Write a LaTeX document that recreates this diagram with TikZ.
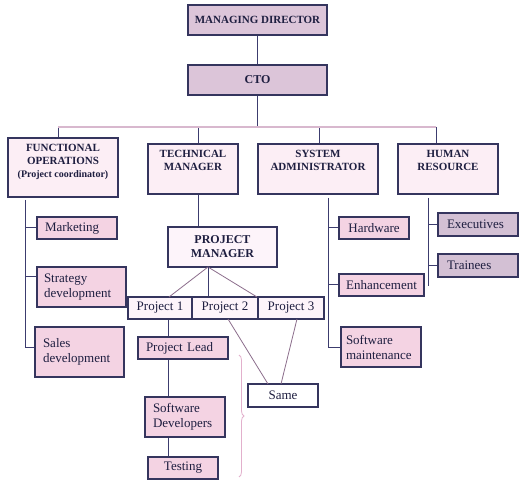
\documentclass[tikz,border=0pt]{standalone}
\usepackage{fontspec}
\setmainfont{Liberation Serif}
\usetikzlibrary{decorations.pathreplacing}
\lefthyphenmin=62
\righthyphenmin=62
\definecolor{bord}{HTML}{35355E}
\definecolor{txt}{HTML}{1E1E40}
\definecolor{lnc}{HTML}{3C3C6E}
\definecolor{busc}{HTML}{D8B8CE}
\definecolor{mauvel}{HTML}{8C6E8C}
\definecolor{bracec}{HTML}{E2B0CC}
\definecolor{mauve}{HTML}{DCC5D9}
\definecolor{pale}{HTML}{FCEEF5}
\definecolor{paler}{HTML}{FDF4FA}
\definecolor{pinkb}{HTML}{F4D3E3}
\definecolor{lilac}{HTML}{D3C0D4}
\begin{document}
\begin{tikzpicture}[x=1pt,y=-1pt,
  bx/.style={draw=bord, line width=1.3pt, inner sep=0pt, text=txt},
  bt/.style={font=\fontsize{11}{13}\selectfont\bfseries},
  rt/.style={font=\fontsize{13}{15}\selectfont},
  ttl/.style={bt, text=txt, align=center, anchor=north, yshift=-3pt},
  ln/.style={draw=lnc, line width=0.9pt},
  busl/.style={draw=busc, line width=1.2pt},
  ml/.style={draw=mauvel, line width=0.8pt}]
\useasboundingbox[fill=white] (0,0) rectangle (525,489);

% top
\node[bx,bt,fill=mauve,minimum width=139pt,minimum height=30pt] (md) at (257.5,20) {MANAGING DIRECTOR};
\node[bx,fill=mauve,font=\fontsize{12}{14}\selectfont\bfseries,minimum width=139pt,minimum height=30pt] (cto) at (257.5,80) {CTO};

% row 2
\node[bx,fill=pale,minimum width=110pt,minimum height=59pt,
  label={[ttl]north:FUNCTIONAL\\OPERATIONS\\{\fontsize{10}{12}\selectfont(Project coordinator)}}] (fo) at (63,167.5) {};
\node[bx,fill=pale,minimum width=90pt,minimum height=50pt,
  label={[ttl]north:TECHNICAL\\MANAGER}] (tm) at (193,169) {};
\node[bx,fill=pale,minimum width=120pt,minimum height=50pt,
  label={[ttl]north:SYSTEM\\ADMINISTRATOR}] (sa) at (318,169) {};
\node[bx,fill=pale,minimum width=100pt,minimum height=50pt,
  label={[ttl]north:HUMAN\\RESOURCE}] (hr) at (448,169) {};

% functional operations children
\node[bx,rt,fill=pinkb,minimum width=80pt,minimum height=22pt,text width=64pt,align=left] (mk) at (77,228) {Marketing};
\node[bx,rt,fill=pinkb,minimum width=89pt,minimum height=40pt,text width=75pt,align=left] (st) at (81.5,287) {Strategy\\development};
\node[bx,rt,fill=pinkb,minimum width=89pt,minimum height=50pt,text width=73pt,align=left] (sd) at (79.5,352) {Sales\\development};

% project manager
\node[bx,fill=paler,font=\fontsize{12}{14}\selectfont\bfseries,align=center,minimum width=109pt,minimum height=40pt] (pm) at (222.5,247) {PROJECT\\MANAGER};
\node[bx,rt,fill=paler,minimum width=64pt,minimum height=22pt] (p1) at (160,308) {Project 1};
\node[bx,rt,fill=paler,minimum width=66pt,minimum height=22pt] (p2) at (225,308) {Project 2};
\node[bx,rt,fill=paler,minimum width=66pt,minimum height=22pt] (p3) at (291,308) {Project 3};
\node[bx,rt,fill=pinkb,minimum width=90pt,minimum height=22pt,text width=74pt,align=left] (pl) at (183,348) {Project Lead};
\node[bx,rt,fill=pinkb,minimum width=80pt,minimum height=40pt,text width=64pt,align=left] (dev) at (185,417) {Software\\Developers};
\node[bx,rt,fill=pinkb,minimum width=70pt,minimum height=22pt] (te) at (183,468) {Testing};
\node[bx,rt,fill=white,minimum width=70pt,minimum height=23pt] (same) at (283,395.5) {Same};

% system administrator children
\node[bx,rt,fill=pinkb,minimum width=70pt,minimum height=22pt] (hw) at (374,228) {Hardware};
\node[bx,rt,fill=pinkb,minimum width=85pt,minimum height=22pt] (en) at (381.5,285) {Enhancement};
\node[bx,rt,fill=pinkb,minimum width=80pt,minimum height=40pt,text width=70pt,align=left] (sm) at (381,347) {Software\\maintenance};

% human resource children
\node[bx,rt,fill=lilac,minimum width=80pt,minimum height=23pt,text width=62pt,align=left] (ex) at (478,224.5) {Executives};
\node[bx,rt,fill=lilac,minimum width=80pt,minimum height=23pt,text width=62pt,align=left] (tr) at (478,265.5) {Trainees};

% top connectors
\coordinate (bus) at (257.5,127);
\coordinate (b1) at (58,127);
\coordinate (b2) at (198,127);
\coordinate (b3) at (319,127);
\coordinate (b4) at (436,127);
\draw[ln] (md) -- (cto);
\draw[ln] (cto) -- (bus);
\draw[ln] (b1) -- (b1 |- fo.north);
\draw[ln] (b2) -- (b2 |- tm.north);
\draw[ln] (b3) -- (b3 |- sa.north);
\draw[ln] (b4) -- (b4 |- hr.north);
\draw[busl] (b1) -- (b4);

% functional operations spine
\coordinate (f0) at (25,200);
\coordinate (f1) at (25,227);
\coordinate (f2) at (25,276);
\coordinate (f3) at (25,347);
\draw[ln] (f0) -- (f3);
\draw[ln] (f1) -- (f1 -| mk.west);
\draw[ln] (f2) -- (f2 -| st.west);
\draw[ln] (f3) -- (f3 -| sd.west);

% technical manager branch
\draw[ln] (b2 |- tm.south) -- (b2 |- pm.north);
\coordinate (pc) at (208,267);
\coordinate (q1) at (169,297);
\coordinate (q3) at (257,297);
\draw[ml] (pc) -- (q1);
\draw[ml] (pc) -- (q3);
\draw[ln] (pc) -- (pc |- p2.north);
\coordinate (v1) at (168,330);
\draw[ln] (v1 |- p1.south) -- (v1 |- pl.north);
\draw[ln] (v1 |- pl.south) -- (v1 |- dev.north);
\draw[ln] (v1 |- dev.south) -- (v1 |- te.north);
\coordinate (s1) at (228,319);
\coordinate (s2) at (268,384);
\coordinate (s3) at (297,319);
\coordinate (s4) at (281,384);
\draw[ml] (s1) -- (s2);
\draw[ml] (s3) -- (s4);
\coordinate (br1) at (239,355);
\coordinate (br2) at (239,477);
\draw[draw=bracec, line width=0.8pt, decorate, decoration={brace, amplitude=5pt}] (br1) -- (br2);

% system administrator spine
\coordinate (a0) at (328,198);
\coordinate (a1) at (328,227);
\coordinate (a2) at (328,284);
\coordinate (a3) at (328,347);
\draw[ln] (a0) -- (a3);
\draw[ln] (a1) -- (a1 -| hw.west);
\draw[ln] (a2) -- (a2 -| en.west);
\draw[ln] (a3) -- (a3 -| sm.west);

% human resource spine
\coordinate (h0) at (428,198);
\coordinate (h1) at (428,224);
\coordinate (h2) at (428,265);
\coordinate (h3) at (428,286);
\draw[ln] (h0) -- (h3);
\draw[ln] (h1) -- (h1 -| ex.west);
\draw[ln] (h2) -- (h2 -| tr.west);
\end{tikzpicture}
\end{document}
